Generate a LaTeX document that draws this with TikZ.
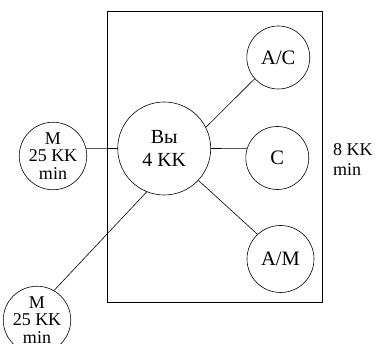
\documentclass[tikz,border=0pt]{standalone}
\usepackage{fontspec}
\setmainfont{Liberation Serif}
\begin{document}
\begin{tikzpicture}[x=1pt,y=1pt,
  circ/.style={draw,circle,inner sep=0pt,line width=0.6pt,align=center},
  big/.style={circ,minimum size=93pt,font=\fontsize{20}{23}\selectfont},
  mid/.style={circ,minimum size=63pt,font=\fontsize{20.5}{23}\selectfont},
  sml/.style={circ,minimum size=62pt,font=\fontsize{18}{17.5}\selectfont},
  conn/.style={line width=0.6pt}]
\useasboundingbox (0,0) rectangle (377,344);
\draw[line width=0.6pt] (107,333) rectangle (322,42);
\node[big] (vy) at (164.2,195.5) {Вы\\4 KK};
\node[mid] (ac) at (278.3,286.5) {A/C};
\node[mid] (c) at (277.3,186) {C};
\node[mid,minimum size=67pt] (am) at (280.5,85) {A/M};
\node[sml] (m1) at (53,188) {M\\25 KK\\min};
\node[sml] (m2) at (37,24) {M\\25 KK\\min};
\node[anchor=west,align=left,inner sep=0pt,font=\fontsize{18}{20}\selectfont] (t8) at (333,184) {8 KK\\min};
\draw[conn] (m1.13) -- (vy.west);
\draw[conn] (vy.east) -- (c.163);
\draw[conn] (vy.27) -- (ac.222);
\draw[conn] (vy.-43) -- (am.133);
\draw[conn] (vy.248) -- (m2.60);
\end{tikzpicture}
\end{document}
